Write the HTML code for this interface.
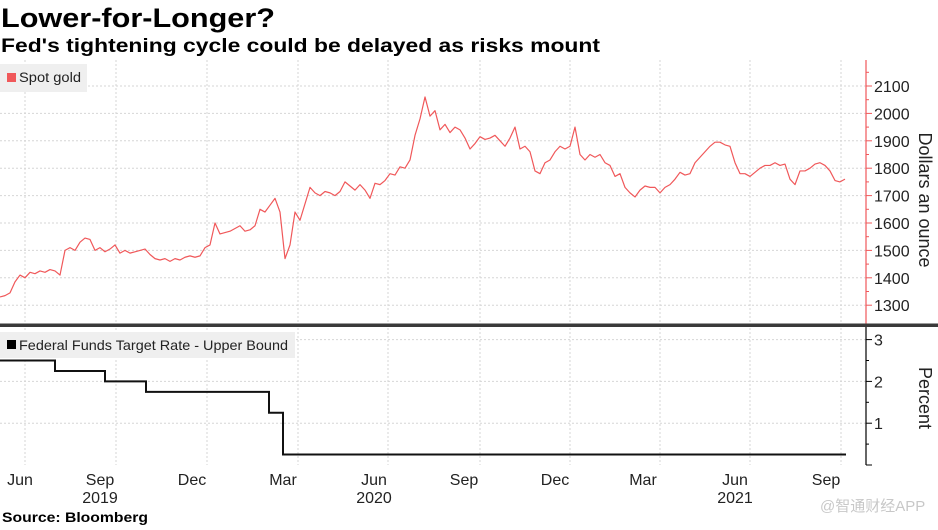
<!DOCTYPE html>
<html><head><meta charset="utf-8"><style>
body{margin:0;background:#fff;width:938px;height:525px;overflow:hidden;font-family:"Liberation Sans","Noto Sans CJK SC",sans-serif}
</style></head><body>
<svg width="938" height="525" xmlns="http://www.w3.org/2000/svg" font-family="'Liberation Sans','Noto Sans CJK SC',sans-serif">
<text x="1" y="27" font-size="27" font-weight="bold" fill="#000" textLength="274" lengthAdjust="spacingAndGlyphs">Lower-for-Longer?</text>
<text x="1" y="52" font-size="19" font-weight="bold" fill="#000" textLength="599" lengthAdjust="spacingAndGlyphs">Fed's tightening cycle could be delayed as risks mount</text>
<g id="grid"></g>
<g id="gold"></g>
<g id="fed"></g>
<rect x="0" y="323.5" width="938" height="3.5" fill="#3a3a3a"/>
<g>
<rect x="0" y="64" width="87" height="28" fill="#efefef"/>
<rect x="7" y="73" width="9" height="9" fill="#f0585a"/>
<text x="19" y="82" font-size="13.5" fill="#222" textLength="62" lengthAdjust="spacingAndGlyphs">Spot gold</text>
</g>
<g>
<rect x="0" y="332" width="295" height="26" fill="#efefef"/>
<rect x="7" y="340" width="9" height="9" fill="#000"/>
<text x="19" y="350" font-size="14" fill="#222" textLength="269" lengthAdjust="spacingAndGlyphs">Federal Funds Target Rate - Upper Bound</text>
</g>
<text transform="translate(919,200) rotate(90)" text-anchor="middle" font-size="18" fill="#222">Dollars an ounce</text>
<text transform="translate(919,398) rotate(90)" text-anchor="middle" font-size="18" fill="#222">Percent</text>
<g id="xaxis"></g>
<text x="2" y="522" font-size="14" font-weight="bold" fill="#000" textLength="146" lengthAdjust="spacingAndGlyphs">Source: Bloomberg</text>
<text x="820" y="511" font-size="15" fill="#c8c8c8">@智通财经APP</text>
</svg>
<script>
const goldStepDays = 5;
const goldValues = [1330,1335,1345,1385,1410,1400,1420,1415,1425,1420,1430,1425,1410,1500,1510,1500,1530,1545,1540,1500,1510,1495,1505,1520,1490,1500,1490,1495,1500,1505,1485,1470,1465,1470,1460,1470,1465,1475,1480,1475,1480,1510,1520,1600,1560,1565,1570,1580,1590,1570,1575,1590,1650,1640,1665,1690,1640,1470,1520,1640,1610,1670,1730,1710,1700,1715,1710,1700,1715,1750,1735,1720,1740,1720,1690,1745,1740,1755,1780,1775,1805,1800,1830,1920,1980,2060,1990,2010,1940,1960,1930,1950,1940,1910,1870,1890,1915,1905,1910,1920,1900,1880,1910,1950,1870,1880,1860,1790,1780,1820,1830,1860,1880,1870,1880,1950,1850,1830,1850,1840,1850,1820,1810,1770,1780,1730,1710,1695,1720,1735,1730,1730,1710,1730,1740,1760,1785,1775,1780,1820,1840,1860,1880,1895,1895,1885,1880,1820,1780,1780,1770,1785,1800,1810,1810,1820,1810,1815,1760,1740,1790,1790,1800,1815,1820,1810,1790,1755,1750,1760];
const fedDays = [0,55,105,146,269,283];
const fedRates = [2.5,2.25,2.0,1.75,1.25,0.25];
const fedEndDay = 846;
const goldTicks = [1300,1400,1500,1600,1700,1800,1900,2000,2100];
const rateTicks = [0,1,2,3];
const monthLabels = ["Jun","Sep","Dec","Mar","Jun","Sep","Dec","Mar","Jun","Sep"];
const monthLabelDays = [20,100,192,283,374,464,555,643,735,826];
const gridDays = [25,116,207,298,388,480,570,660,750,841];
const yearLabels = ["2019","2020","2021"];
const yearLabelDays = [100,374,735];

const NS="http://www.w3.org/2000/svg";
function mk(tag,attrs,parent){const e=document.createElementNS(NS,tag);for(const k in attrs)e.setAttribute(k,attrs[k]);parent.appendChild(e);return e;}
const x=d=>d*1.0;
const yG=v=>86+(2100-v)*0.274;
const yR=v=>465-41.8*v;
const grid=document.getElementById('grid'),gold=document.getElementById('gold'),fed=document.getElementById('fed'),xa=document.getElementById('xaxis');
gridDays.forEach(d=>{
  const l=mk('line',{x1:x(d),x2:x(d),y1:60,y2:465,stroke:'#d6d6d6','stroke-dasharray':'2,2','stroke-width':1},grid);
  
  
});
goldTicks.forEach(v=>{
  const l=mk('line',{x1:0,x2:866,y1:yG(v),y2:yG(v),stroke:'#d6d6d6','stroke-dasharray':'2,2'},grid);
  
  
  const t=mk('line',{x1:866,x2:872,y1:yG(v),y2:yG(v),stroke:'#f0585a'},gold);
  
  
  const m=mk('line',{x1:866,x2:869,y1:yG(v+50),y2:yG(v+50),stroke:'#f0585a'},gold);
  
  
  const tx=mk('text',{x:874,y:yG(v)+6,'font-size':16,fill:'#222'},gold);
  tx.textContent=v;
  
  
});
const ga=mk('line',{x1:866,x2:866,y1:60,y2:324,stroke:'#f0585a','stroke-width':1.2},gold);


const gp=mk('polyline',{points:goldValues.map((v,i)=>x(i*goldStepDays)+','+yG(v)).join(' '),fill:'none',stroke:'#f0585a','stroke-width':1.2,'stroke-linejoin':'round'},gold);



rateTicks.forEach(v=>{
  if(v>0){const l=mk('line',{x1:0,x2:866,y1:yR(v),y2:yR(v),stroke:'#d6d6d6','stroke-dasharray':'2,2'},grid);
  
  }
  const t=mk('line',{x1:866,x2:872,y1:yR(v),y2:yR(v),stroke:'#000'},fed);
  
  
  if(v<3){const m=mk('line',{x1:866,x2:869,y1:yR(v+0.5),y2:yR(v+0.5),stroke:'#000'},fed);
  
  }
  if(v>0){const tx=mk('text',{x:874,y:yR(v)+6,'font-size':16,fill:'#222'},fed);
  tx.textContent=v;
  
  }
});
const ra=mk('line',{x1:866,x2:866,y1:327,y2:465,stroke:'#000','stroke-width':1.2},fed);


let pts=[];
fedDays.forEach((d,i)=>{const end=i<fedDays.length-1?fedDays[i+1]:fedEndDay;pts.push(x(d)+','+yR(fedRates[i]));pts.push(x(end)+','+yR(fedRates[i]));});
const fp=mk('polyline',{points:pts.join(' '),fill:'none',stroke:'#111','stroke-width':2},fed);



monthLabels.forEach((m,i)=>{
  const t=mk('text',{x:x(monthLabelDays[i]),y:485,'text-anchor':'middle','font-size':16,fill:'#222'},xa);
  t.textContent=m;
  
  
});
yearLabels.forEach((m,i)=>{
  const t=mk('text',{x:x(yearLabelDays[i]),y:503,'text-anchor':'middle','font-size':16,fill:'#222'},xa);
  t.textContent=m;
  
  
});
</script>
</body></html>
